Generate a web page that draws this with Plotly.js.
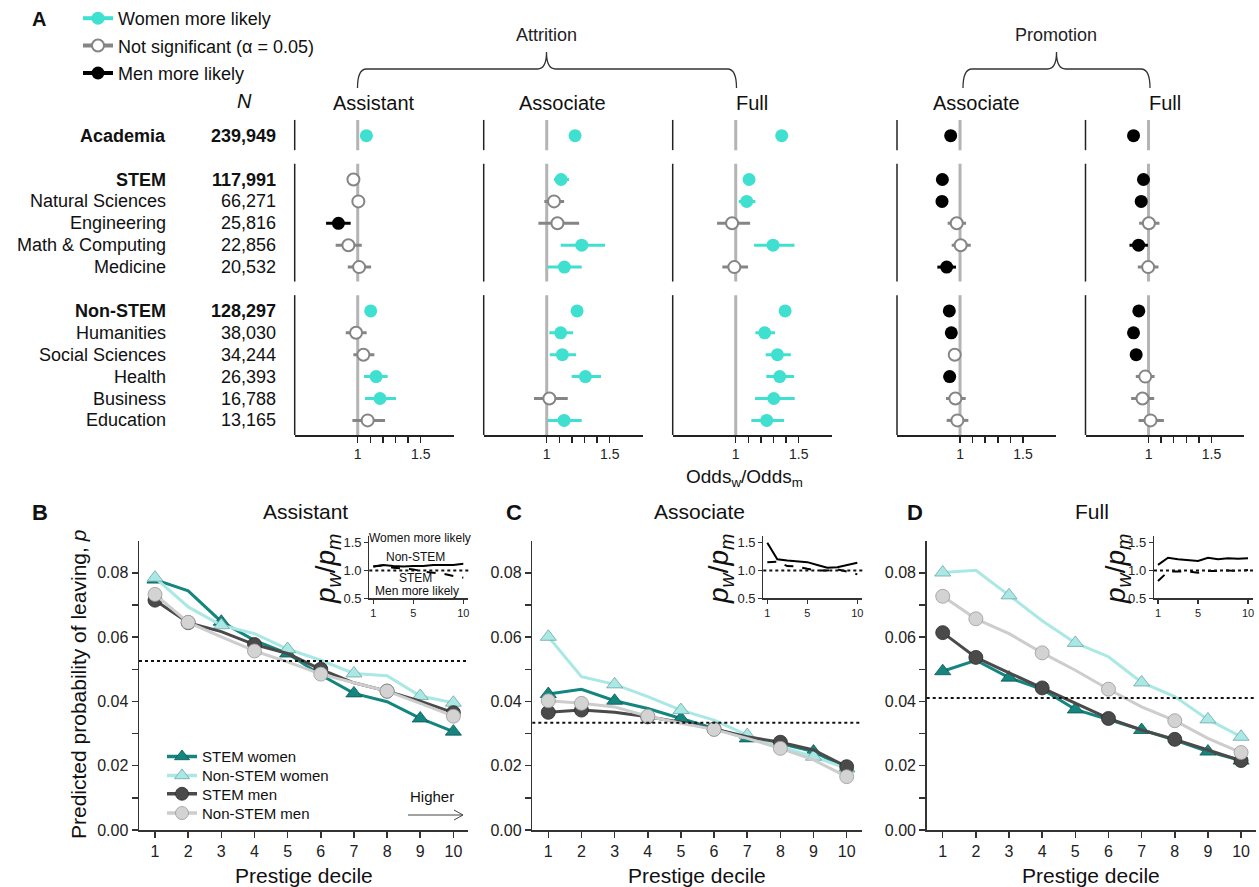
<!DOCTYPE html>
<html><head><meta charset="utf-8">
<script src="https://cdn.plot.ly/plotly-3.0.1.min.js"></script>
<style>html,body{margin:0;padding:0;background:#fff}#chart{width:1259px;height:887px}</style>
</head><body><div id="chart"></div>
<script>
// ================= DATA =================
// Panel A: fields, sample sizes, grouping
const fieldNames = ['Academia','STEM','Natural Sciences','Engineering','Math & Computing','Medicine','Non-STEM','Humanities','Social Sciences','Health','Business','Education'];
const fieldN     = ['239,949','117,991','66,271','25,816','22,856','20,532','128,297','38,030','34,244','26,393','16,788','13,165'];
const fieldBold  = [true,true,false,false,false,false,true,false,false,false,false,false];
const fieldGroup = [0,1,1,1,1,1,2,2,2,2,2,2];

// Attrition - Assistant (Odds_w/Odds_m, CI low, CI high, significance)
const asstOR  = [1.069,0.966,1.005,0.847,0.926,1.011,1.103,0.987,1.045,1.146,1.177,1.079];
const asstLo  = [1.040,0.930,0.955,0.749,0.825,0.921,1.070,0.905,0.966,1.050,1.058,0.958];
const asstHi  = [1.100,1.004,1.058,0.944,1.032,1.106,1.135,1.071,1.132,1.238,1.304,1.217];
const asstSig = ['w','n','n','m','n','n','w','n','n','w','w','n'];
// Attrition - Associate
const assocOR  = [1.225,1.114,1.058,1.085,1.278,1.140,1.241,1.111,1.124,1.307,1.021,1.138];
const assocLo  = [1.195,1.058,0.981,0.934,1.111,1.008,1.210,1.021,1.024,1.198,0.899,1.008];
const assocHi  = [1.255,1.177,1.138,1.257,1.463,1.278,1.270,1.209,1.233,1.431,1.167,1.278];
const assocSig = ['w','w','n','n','w','w','w','w','w','w','n','w'];
// Attrition - Full
const fullOR  = [1.365,1.106,1.087,0.971,1.296,0.989,1.392,1.230,1.331,1.349,1.302,1.246];
const fullLo  = [1.335,1.070,1.024,0.852,1.146,0.894,1.360,1.156,1.238,1.243,1.153,1.124];
const fullHi  = [1.395,1.140,1.156,1.114,1.466,1.098,1.420,1.312,1.437,1.463,1.468,1.384];
const fullSig = ['w','w','w','n','w','n','w','w','w','w','w','w'];
// Promotion - to Associate
const promAssocOR  = [0.926,0.860,0.857,0.974,1.005,0.894,0.915,0.931,0.958,0.918,0.963,0.979];
const promAssocLo  = [0.900,0.835,0.830,0.902,0.934,0.820,0.890,0.905,0.918,0.870,0.889,0.894];
const promAssocHi  = [0.950,0.885,0.885,1.048,1.085,0.968,0.940,0.957,1.000,0.965,1.045,1.066];
const promAssocSig = ['m','m','m','n','n','m','m','m','n','m','n','n'];
// Promotion - to Full
const promFullOR  = [0.881,0.960,0.942,1.003,0.921,0.997,0.923,0.881,0.902,0.974,0.952,1.016];
const promFullLo  = [0.855,0.935,0.915,0.926,0.849,0.915,0.900,0.855,0.875,0.899,0.862,0.921];
const promFullHi  = [0.905,0.985,0.970,1.087,0.995,1.079,0.946,0.907,0.930,1.048,1.045,1.122];
const promFullSig = ['m','m','m','n','m','n','m','m','m','n','n','n'];

// Panels B-D: predicted probability of leaving by prestige decile
const deciles = [1,2,3,4,5,6,7,8,9,10];
const asstStemW  = [0.0779,0.0744,0.0648,0.0590,0.0549,0.0482,0.0425,0.0399,0.0347,0.0306];
const asstNonW   = [0.0785,0.0694,0.0637,0.0611,0.0563,0.0528,0.0487,0.0480,0.0417,0.0396];
const asstStemM  = [0.0715,0.0645,0.0617,0.0577,0.0549,0.0500,0.0458,0.0432,0.0401,0.0365];
const asstNonM   = [0.0733,0.0646,0.0601,0.0557,0.0523,0.0485,0.0458,0.0432,0.0394,0.0354];
const assocStemW = [0.0423,0.0438,0.0402,0.0378,0.0347,0.0316,0.0285,0.0269,0.0244,0.0192];
const assocNonW  = [0.0601,0.0477,0.0453,0.0415,0.0373,0.0342,0.0295,0.0259,0.0228,0.0192];
const assocStemM = [0.0366,0.0373,0.0366,0.0352,0.0335,0.0314,0.0290,0.0273,0.0249,0.0197];
const assocNonM  = [0.0402,0.0394,0.0383,0.0354,0.0332,0.0313,0.0285,0.0254,0.0218,0.0166];
const fullStemW  = [0.0494,0.0528,0.0474,0.0438,0.0375,0.0344,0.0311,0.0280,0.0244,0.0216];
const fullNonW   = [0.0801,0.0808,0.0730,0.0651,0.0582,0.0539,0.0459,0.0415,0.0344,0.0290];
const fullStemM  = [0.0614,0.0537,0.0489,0.0442,0.0394,0.0347,0.0311,0.0282,0.0249,0.0216];
const fullNonM   = [0.0727,0.0657,0.0611,0.0551,0.0497,0.0438,0.0383,0.0340,0.0285,0.0241];
const avgLeave   = [0.0526,0.0334,0.0411];

// Insets: p_w / p_m by decile
const asstRatioNon  = [1.07,1.10,1.08,1.07,1.08,1.08,1.10,1.10,1.10,1.12];
const asstRatioStem = [1.07,1.09,1.05,1.03,1.02,0.98,0.96,0.94,0.90,0.87];
const assocRatioNon  = [1.50,1.20,1.18,1.16,1.15,1.10,1.05,1.06,1.10,1.14];
const assocRatioStem = [1.15,1.16,1.08,1.07,1.03,1.00,1.00,1.02,0.98,0.93];
const fullRatioNon  = [1.10,1.23,1.20,1.18,1.17,1.23,1.20,1.22,1.21,1.22];
const fullRatioStem = [0.81,0.98,0.98,0.98,0.96,0.99,0.99,1.00,0.99,1.01];

// ================= LAYOUT HELPERS =================
const W=1259, H=887;
const FONT='Liberation Sans, Arial, Helvetica, sans-serif';
const px = v => v/W, py = v => 1 - v/H;
const TURQ='#40E0D0';
const rows = fieldGroup.map((g,i)=>i+g);

const sigStyle = {
  w:{name:'Women more likely', mcolor:TURQ, mline:TURQ, mlw:0, ecolor:TURQ, size:13},
  n:{name:'Not significant (α = 0.05)', mcolor:'#ffffff', mline:'#858585', mlw:2, ecolor:'#858585', size:12},
  m:{name:'Men more likely', mcolor:'#000000', mline:'#000000', mlw:0, ecolor:'#000000', size:13}
};

const topDefs = [
  {or:asstOR, lo:asstLo, hi:asstHi, sig:asstSig},
  {or:assocOR, lo:assocLo, hi:assocHi, sig:assocSig},
  {or:fullOR, lo:fullLo, hi:fullHi, sig:fullSig},
  {or:promAssocOR, lo:promAssocLo, hi:promAssocHi, sig:promAssocSig},
  {or:promFullOR, lo:promFullLo, hi:promFullHi, sig:promFullSig}
];
const topLeftPx = [294.7,483.7,672.7,897,1085.5];
const topTitles = ['Assistant','Associate','Full','Associate','Full'];
const topW = 158.8, topRange=[0.5,1.76];
const topYTop=115, topYBot=435, rowPx0=135.7, rowStep=21.9;
const yBotR = (topYBot-rowPx0)/rowStep, yTopR=(topYTop-rowPx0)/rowStep;

const traces=[], shapes=[], annotations=[];
const layout = {width:W, height:H, margin:{l:0,r:0,t:0,b:0}, paper_bgcolor:'#fff', plot_bgcolor:'rgba(0,0,0,0)',
  font:{family:FONT, color:'#1a1a1a'}, showlegend:true};

function ann(text,x,y,o){ annotations.push(Object.assign({text, x:px(x), y:py(y), xref:'paper', yref:'paper', showarrow:false, xanchor:'center', yanchor:'middle', font:{size:18, family:FONT, color:'#1a1a1a'}}, o||{})); }

// ---------- Top panels ----------
const groupIds=[...new Set(fieldGroup)];
topDefs.forEach((p,k)=>{
  const ax = k===0?'':String(k+1);
  layout['xaxis'+ax] = {domain:[px(topLeftPx[k]), px(topLeftPx[k]+topW)], range:topRange, anchor:'y'+ax,
    showline:true, linecolor:'#222', linewidth:1.5, ticks:'outside', ticklen:6, tickwidth:1.5, tickcolor:'#222',
    tickmode:'array', tickvals:[1,1.5], ticktext:['1','1.5'], tickfont:{size:14,color:'#222'},
    minor:{tickmode:'array', tickvals:[1.1,1.2,1.3,1.4], ticks:'outside', ticklen:6, tickwidth:1.5, tickcolor:'#222', showgrid:false},
    showgrid:false, zeroline:false, fixedrange:true};
  layout['yaxis'+ax] = {domain:[py(topYBot), py(topYTop)], range:[yBotR, yTopR], anchor:'x'+ax, visible:false, fixedrange:true};
  groupIds.forEach((g,gi)=>{
    const rs = rows.filter((r,i)=>fieldGroup[i]===g);
    const y0 = Math.min(...rs)-0.72, y1 = gi===groupIds.length-1 ? yBotR : Math.max(...rs)+0.66;
    shapes.push({type:'line', xref:'x'+ax+' domain', yref:'y'+ax, x0:0, x1:0, y0, y1, line:{color:'#222', width:1.5}});
    shapes.push({type:'line', xref:'x'+ax, yref:'y'+ax, x0:1, x1:1, y0, y1, layer:'below', line:{color:'#b4b4b4', width:3}});
  });
  ['n','m','w'].forEach(c=>{
    const idx = p.or.map((v,i)=>i).filter(i=>p.sig[i]===c);
    if(!idx.length) return;
    const s=sigStyle[c];
    traces.push({type:'scatter', mode:'markers', xaxis:'x'+ax, yaxis:'y'+ax, showlegend:false, hoverinfo:'skip', cliponaxis:false,
      x: idx.map(i=>p.or[i]), y: idx.map(i=>rows[i]),
      error_x:{type:'data', symmetric:false, array: idx.map(i=>p.hi[i]-p.or[i]), arrayminus: idx.map(i=>p.or[i]-p.lo[i]), color:s.ecolor, thickness:3, width:0},
      marker:{size:s.size, opacity:1, color:s.mcolor, line:{color:s.mline, width:s.mlw}}});
  });
  ann(topTitles[k], topLeftPx[k]+63+16, 103, {font:{size:20,family:FONT,color:'#111'}});
});
// row labels
fieldNames.forEach((n,i)=>{
  const b=fieldBold[i];
  annotations.push({text: b?'<b>'+n+'</b>':n, xref:'paper', yref:'y', x:px(167.7), y:rows[i], xanchor:'right', yanchor:'middle', showarrow:false, font:{size:18,family:FONT,color:'#111'}});
  annotations.push({text: b?'<b>'+fieldN[i]+'</b>':fieldN[i], xref:'paper', yref:'y', x:px(277.7), y:rows[i], xanchor:'right', yanchor:'middle', showarrow:false, font:{size:18,family:FONT,color:'#111'}});
});
ann('<i>N</i>', 244, 101, {font:{size:20,family:FONT,color:'#111'}});
ann('<b>A</b>', 39, 19, {font:{size:20,family:FONT,color:'#111'}});
ann('Attrition', 546, 35, {font:{size:18,family:FONT,color:'#222'}});
ann('Promotion', 1056, 35, {font:{size:18,family:FONT,color:'#222'}});
ann('Odds<sub>w</sub>/Odds<sub>m</sub>', 745, 478, {font:{size:19,family:FONT,color:'#111'}});

function brace(x0,x1,xc,yTop,yEnd,yPeak){
  const r=9;
  return `M${px(x0)},${py(yEnd)} Q${px(x0)},${py(yTop)} ${px(x0+r)},${py(yTop)} L${px(xc-r)},${py(yTop)} Q${px(xc)},${py(yTop)} ${px(xc)},${py(yPeak)} Q${px(xc)},${py(yTop)} ${px(xc+r)},${py(yTop)} L${px(x1-r)},${py(yTop)} Q${px(x1)},${py(yTop)} ${px(x1)},${py(yEnd)}`;
}
shapes.push({type:'path', xref:'paper', yref:'paper', path:brace(357.5,736.5,546.5,69,88,52), line:{color:'#333', width:1.3}});
shapes.push({type:'path', xref:'paper', yref:'paper', path:brace(963,1150,1056.5,69,88,52), line:{color:'#333', width:1.3}});

// top legend (dummy traces)
const topLegIds=['legend5','legend6','legend7'];
['w','n','m'].forEach((c,j)=>{
  const s=sigStyle[c];
  traces.push({type:'scatter', mode:'lines+markers', x:[null], y:[null], xaxis:'x', yaxis:'y', name:s.name, legend:topLegIds[j], showlegend:true, hoverinfo:'skip',
    line:{color:s.ecolor, width:4}, marker:{size:s.size, opacity:1, color:s.mcolor, line:{color:s.mline, width:s.mlw}}});
  layout[topLegIds[j]] = {x:px(78), y:py(18.3+27.5*j), xanchor:'left', yanchor:'middle', bgcolor:'rgba(0,0,0,0)', borderwidth:0,
    font:{size:18,family:FONT,color:'#111'}, itemclick:false, itemdoubleclick:false};
});

// ---------- Bottom panels ----------
const bottomData = [
  [asstStemW, asstNonW, asstStemM, asstNonM],
  [assocStemW, assocNonW, assocStemM, assocNonM],
  [fullStemW, fullNonW, fullStemM, fullNonM]
];
const seriesStyle=[
  {name:'STEM women', line:'#14857f', fill:'#14857f', edge:'#0b5753', symbol:'triangle-up', marks:[1,3,5,7,9,10]},
  {name:'Non-STEM women', line:'#a9e8e4', fill:'#a9e8e4', edge:'#6fa6a3', symbol:'triangle-up', marks:[1,3,5,7,9,10]},
  {name:'STEM men', line:'#4a4a4a', fill:'#4a4a4a', edge:'#2c2c2c', symbol:'circle', marks:[1,2,4,6,8,10]},
  {name:'Non-STEM men', line:'#cdcdcd', fill:'#d3d3d3', edge:'#9a9a9a', symbol:'circle', marks:[1,2,4,6,8,10]}
];
const botLeftPx=[139,532.3,926.7], botW=329.3, botTop=540.7, botBot=830;
const botTitles=['Assistant','Associate','Full'], botTitleX=[305,699,1091.7];
const botLetters=['B','C','D'], botLetterX=[40,514,915], xTitleX=[304,696.7,1090.7];
bottomData.forEach((set,p)=>{
  const ax=String(6+p);
  layout['xaxis'+ax]={domain:[px(botLeftPx[p]), px(botLeftPx[p]+botW)], range:[0.517,10.45], anchor:'y'+ax,
    showline:true, linecolor:'#333', linewidth:1.5, ticks:'outside', ticklen:6, tickwidth:1.5, tickcolor:'#333',
    tickmode:'array', tickvals:deciles, tickfont:{size:16,color:'#222'}, showgrid:false, zeroline:false, fixedrange:true};
  layout['yaxis'+ax]={domain:[py(botBot), py(botTop)], range:[0,0.09], anchor:'x'+ax,
    showline:true, linecolor:'#333', linewidth:1.5, ticks:'outside', ticklen:6, tickwidth:1.5, tickcolor:'#333',
    tickmode:'array', tickvals:[0,0.02,0.04,0.06,0.08], ticktext:['0.00','0.02','0.04','0.06','0.08'],
    minor:{tickmode:'array', tickvals:[0.01,0.03,0.05,0.07], ticks:'outside', ticklen:6, tickwidth:1.5, tickcolor:'#333', showgrid:false},
    tickfont:{size:16,color:'#222'}, showgrid:false, zeroline:false, fixedrange:true};
  shapes.push({type:'line', xref:'x'+ax+' domain', yref:'y'+ax, x0:0, x1:1, y0:avgLeave[p], y1:avgLeave[p], line:{color:'#111', width:2, dash:'dot'}});
  set.forEach((vals,s)=>{
    const st=seriesStyle[s];
    const on=deciles.map(d=>st.marks.includes(d));
    traces.push({type:'scatter', mode:'lines+markers', xaxis:'x'+ax, yaxis:'y'+ax, x:deciles, y:vals, showlegend:false, hoverinfo:'skip', cliponaxis:false,
      line:{color:st.line, width:3},
      marker:{symbol:st.symbol, size:on.map(o=>o?14:0), opacity:1, color:st.fill, line:{color:st.edge, width:on.map(o=>o?0.8:0)}}});
  });
  ann(botTitles[p], botTitleX[p], 511, {font:{size:21,family:FONT,color:'#111'}});
  ann('<b>'+botLetters[p]+'</b>', botLetterX[p], 512, {font:{size:22,family:FONT,color:'#111'}});
  ann('Prestige decile', xTitleX[p], 875, {font:{size:21,family:FONT,color:'#111'}});
});
ann('Predicted probability of leaving, <i>p</i>', 78, 685, {textangle:-90, font:{size:21,family:FONT,color:'#111'}});
// bottom legend (dummy traces)
const botLegIds=['legend','legend2','legend3','legend4'], botLegY=[756.7,775.7,794,813.3];
seriesStyle.forEach((st,s)=>{
  traces.push({type:'scatter', mode:'lines+markers', x:[null], y:[null], xaxis:'x6', yaxis:'y6', name:st.name, legend:botLegIds[s], showlegend:true, hoverinfo:'skip',
    line:{color:st.line, width:3.5}, marker:{symbol:st.symbol, size:13, opacity:1, color:st.fill, line:{color:st.edge, width:0.8}}});
  layout[botLegIds[s]]={x:px(162), y:py(botLegY[s]), xanchor:'left', yanchor:'middle', bgcolor:'rgba(0,0,0,0)', borderwidth:0,
    font:{size:15,family:FONT,color:'#111'}, itemclick:false, itemdoubleclick:false};
});
// Higher arrow
ann('Higher', 431.7, 796.7, {font:{size:15,family:FONT,color:'#111'}});
shapes.push({type:'line', xref:'paper', yref:'paper', x0:px(408), x1:px(463), y0:py(815), y1:py(815), line:{color:'#444', width:1}});
shapes.push({type:'path', xref:'paper', yref:'paper', path:`M${px(454)},${py(810)} L${px(463)},${py(815)} L${px(454)},${py(820)}`, line:{color:'#444', width:1}});

// ---------- Insets ----------
const insetData=[[asstRatioNon,asstRatioStem],[assocRatioNon,assocRatioStem],[fullRatioNon,fullRatioStem]];
const insetLeftPx=[369.3,763.3,1154], insetW=99, insetTop=536, insetBot=598.3, insetTitleX=[327,720,1117];
insetData.forEach((pair,p)=>{
  const ax=String(9+p);
  layout['xaxis'+ax]={domain:[px(insetLeftPx[p]), px(insetLeftPx[p]+insetW)], range:[0.6,10.5], anchor:'y'+ax,
    showline:true, linecolor:'#333', linewidth:1.2, ticks:'outside', ticklen:4, tickwidth:1.2, tickcolor:'#333',
    tickmode:'array', tickvals:[1,5,10], tickfont:{size:11,color:'#222'}, showgrid:false, zeroline:false, fixedrange:true};
  layout['yaxis'+ax]={domain:[py(insetBot), py(insetTop)], range:[0.5,1.62], anchor:'x'+ax,
    showline:true, linecolor:'#333', linewidth:1.2, ticks:'outside', ticklen:4, tickwidth:1.2, tickcolor:'#333',
    tickmode:'array', tickvals:[0.5,1,1.5], ticktext:['0.5','1.0','1.5'], tickfont:{size:13,color:'#222'}, showgrid:false, zeroline:false, fixedrange:true};
  shapes.push({type:'line', xref:'x'+ax+' domain', yref:'y'+ax, x0:0, x1:1, y0:1, y1:1, line:{color:'#111', width:2, dash:'dot'}});
  traces.push({type:'scatter', mode:'lines', xaxis:'x'+ax, yaxis:'y'+ax, x:deciles, y:pair[0], showlegend:false, hoverinfo:'skip', line:{color:'#000', width:2}});
  traces.push({type:'scatter', mode:'lines', xaxis:'x'+ax, yaxis:'y'+ax, x:deciles, y:pair[1], showlegend:false, hoverinfo:'skip', line:{color:'#000', width:2, dash:'dash'}});
  ann('<i>p</i><sub><i>w</i></sub>/<i>p</i><sub><i>m</i></sub>', insetTitleX[p], 569, {textangle:-90, font:{size:28,family:FONT,color:'#111'}});
});
ann('Women more likely', 420, 538.3, {font:{size:12,family:FONT,color:'#111'}});
ann('Non-STEM', 415.4, 556.7, {font:{size:12,family:FONT,color:'#111'}});
ann('STEM', 415.4, 577.7, {font:{size:12,family:FONT,color:'#111'}});
ann('Men more likely', 417.4, 591, {font:{size:12,family:FONT,color:'#111'}});

layout.shapes=shapes; layout.annotations=annotations;
Plotly.newPlot('chart', traces, layout, {staticPlot:true, displayModeBar:false});
</script></body></html>
